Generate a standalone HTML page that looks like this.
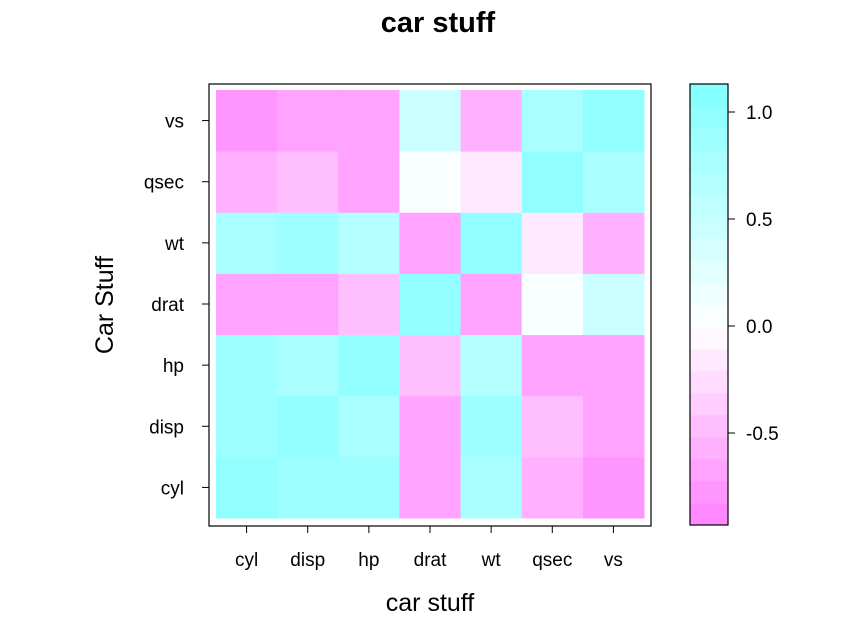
<!DOCTYPE html>
<html><head><style>
body{margin:0;background:#fff;}
svg text{font-family:"Liberation Sans",Arial,sans-serif;fill:#000;}
</style></head><body>
<svg id="s" width="850" height="636" xmlns="http://www.w3.org/2000/svg">
<text x="438" y="32" font-size="29" font-weight="bold" text-anchor="middle">car stuff</text>
<text x="430" y="611" font-size="25" text-anchor="middle">car stuff</text>
<text x="113" y="305" font-size="25" text-anchor="middle" transform="rotate(-90 113 305)">Car Stuff</text>
<g id="cells"></g>
<rect x="209" y="84" width="442" height="442" fill="none" stroke="#000" stroke-width="1.2"/>
<g id="bar"></g>
<rect x="690" y="84" width="38" height="441" fill="none" stroke="#000" stroke-width="1.2"/>
<g id="lab" font-size="19"></g>
</svg>
<script>
var names=["cyl","disp","hp","drat","wt","qsec","vs"];
var C=[[1,.902,.832,-.700,.782,-.591,-.811],
[.902,1,.791,-.710,.888,-.434,-.710],
[.832,.791,1,-.449,.659,-.708,-.723],
[-.700,-.710,-.449,1,-.712,.091,.440],
[.782,.888,.659,-.712,1,-.175,-.555],
[-.591,-.434,-.708,.091,-.175,1,.745],
[-.811,-.710,-.723,.440,-.555,.745,1]];
var lo=-0.93,hi=1.13,nb=20,bw=(hi-lo)/nb;
function col(v){var b=Math.min(nb-1,Math.max(0,Math.floor((v-lo)/bw)));var m=lo+(b+.5)*bw;
var r,g,bl;if(m>=0){var t=Math.min(1,m/1.13);r=255-127*t;g=255;bl=255;}else{var t=Math.min(1,-m/0.93);r=255;g=255-127*t;bl=255;}
return "rgb("+Math.round(r)+","+Math.round(g)+","+Math.round(bl)+")";}
var h="",cw=428/7;
for(var i=0;i<7;i++)for(var j=0;j<7;j++){
h+='<rect x="'+(216+i*cw)+'" y="'+(518-(j+1)*cw)+'" width="'+(cw+.5)+'" height="'+(cw+.5)+'" fill="'+col(C[i][j])+'"/>';}
document.getElementById("cells").innerHTML=h;
var b="";for(var k=0;k<nb;k++){var v0=lo+k*bw,v1=v0+bw;var y0=326-v1*214,y1=326-v0*214;
b+='<rect x="690" y="'+Math.max(84,y0)+'" width="38" height="'+(Math.min(525,y1)-Math.max(84,y0)+.5)+'" fill="'+col(v0+bw/2)+'"/>';}
document.getElementById("bar").innerHTML=b;
var l="";
for(var i=0;i<7;i++){var x=216+(i+.5)*cw;l+='<line x1="'+x+'" y1="526" x2="'+x+'" y2="533" stroke="#000"/><text x="'+x+'" y="566" text-anchor="middle">'+names[i]+'</text>';
var y=518-(i+.5)*cw;l+='<line x1="202" y1="'+y+'" x2="209" y2="'+y+'" stroke="#000"/><text x="184" y="'+(y+7)+'" text-anchor="end">'+names[i]+'</text>';}
[[1,"1.0"],[.5,"0.5"],[0,"0.0"],[-.5,"-0.5"]].forEach(function(a){var y=326-a[0]*214;
l+='<line x1="728" y1="'+y+'" x2="735" y2="'+y+'" stroke="#000"/><text x="746" y="'+(y+7)+'">'+a[1]+'</text>';});
document.getElementById("lab").innerHTML=l;
</script>
</body></html>
